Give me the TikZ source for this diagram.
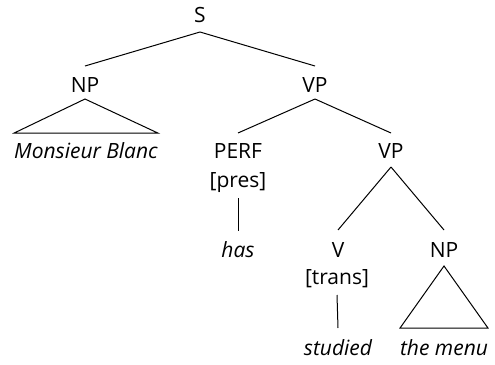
\documentclass[tikz,border=0pt]{standalone}
\usepackage{fontspec}
\setmainfont{Open Sans}
\begin{document}
\begin{tikzpicture}[x=1pt,y=-1pt,
  lbl/.style={anchor=base,inner sep=0pt,outer sep=0pt,font=\fontsize{21}{24}\selectfont},
  wrd/.style={lbl,font=\fontsize{21}{24}\selectfont\itshape},
  edge/.style={line width=1pt}]
\useasboundingbox (0,0) rectangle (495,364);
\node[lbl] (S) at (200,23) {S};
\node[lbl] (NP) at (85,92) {NP};
\node[lbl] (VP) at (315,92) {VP};
\node[wrd] (MB) at (86,158) {Monsieur Blanc};
\node[lbl] (PERF) at (238,158) {PERF};
\node[lbl] (pres) at (238,187) {[pres]};
\node[wrd] (has) at (238,257) {has};
\node[lbl] (VP2) at (391,158) {VP};
\node[lbl] (V) at (338,257) {V};
\node[lbl] (trans) at (337,284) {[trans]};
\node[wrd] (studied) at (338,355) {studied};
\node[lbl] (NP2) at (444,257) {NP};
\node[wrd] (menu) at (444,355) {the menu};
\draw[edge] ([yshift=-9pt]S.base) -- ([yshift=26pt]NP.base);
\draw[edge] ([yshift=-9pt]S.base) -- ([yshift=26pt]VP.base);
\draw[edge] ([yshift=-7pt]NP.base) -- ([yshift=25pt]MB.base west) -- ([yshift=25pt]MB.base east) -- cycle;
\draw[edge] ([yshift=-7pt]VP.base) -- ([yshift=25pt]PERF.base);
\draw[edge] ([yshift=-7pt]VP.base) -- ([yshift=25pt]VP2.base);
\draw[edge] ([yshift=-11pt]pres.base) -- ([yshift=26pt]has.base);
\draw[edge] ([yshift=-9pt]VP2.base) -- ([yshift=27pt]V.base);
\draw[edge] ([yshift=-9pt]VP2.base) -- ([yshift=27pt]NP2.base);
\draw[edge] ([yshift=-11pt]trans.base) -- ([yshift=27pt]studied.base);
\draw[edge] ([yshift=-9pt]NP2.base) -- ([yshift=27pt]menu.base west) -- ([yshift=27pt]menu.base east) -- cycle;
\end{tikzpicture}
\end{document}
